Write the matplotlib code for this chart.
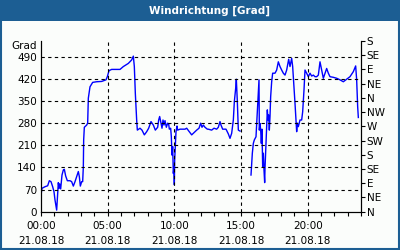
import numpy as np
import matplotlib
matplotlib.use("Agg")
import matplotlib.pyplot as plt
from matplotlib.patches import Rectangle

# hours since 00:00 on 21.08.18 and wind direction in degrees
hours = [0.0, 0.075, 0.30, 0.50, 0.625, 0.75, 0.875, 0.975, 1.05, 1.175,
         1.30, 1.35, 1.40, 1.475, 1.575, 1.675, 1.75, 1.85, 1.975, 2.175,
         2.30, 2.425, 2.55, 2.675, 2.80, 2.875, 2.95, 3.05, 3.125, 3.175,
         3.20, 3.25, 3.425, 3.50, 3.55, 3.675, 3.875, 4.175, 4.55, 4.875,
         4.975, 5.10, 5.30, 5.925, 6.175, 6.55, 6.80, 6.925, 7.00, 7.075,
         7.125, 7.175, 7.225, 7.425, 7.575, 7.75, 7.925, 8.075, 8.25, 8.425,
         8.575, 8.75, 8.825, 8.90, 9.00, 9.075, 9.15, 9.225, 9.30, 9.40,
         9.50, 9.575, 9.625, 9.725, 9.775, 9.825, 9.875, 9.925, 9.975, 10.00,
         10.025, 10.075, 10.125, 10.20, 10.25, 10.425, 10.80, 10.925, 11.125, 11.30,
         11.475, 11.675, 11.85, 11.975, 12.075, 12.175, 12.30, 12.475, 12.55, 12.80,
         12.975, 13.175, 13.30, 13.425, 13.50, 13.625, 13.875, 14.05, 14.175, 14.30,
         14.425, 14.50, 14.60, 14.65, 14.725, 14.80, 14.925, 15.3, 15.75, 15.85,
         15.925, 16.00, 16.125, 16.225, 16.30, 16.35, 16.375, 16.425, 16.475, 16.525,
         16.575, 16.625, 16.675, 16.725, 16.775, 16.80, 16.875, 16.925, 16.975, 17.025,
         17.075, 17.125, 17.175, 17.225, 17.30, 17.375, 17.55, 17.675, 17.80, 17.925,
         18.05, 18.175, 18.30, 18.425, 18.575, 18.675, 18.80, 18.875, 18.925, 19.05,
         19.125, 19.175, 19.225, 19.30, 19.425, 19.55, 19.625, 19.725, 19.80, 19.925,
         20.05, 20.175, 20.30, 20.425, 20.55, 20.675, 20.80, 20.925, 21.05, 21.175,
         21.30, 21.425, 21.55, 21.675, 21.925, 22.175, 22.425, 22.675, 22.925, 23.175,
         23.425, 23.60, 23.675, 23.75, 23.80]
grad = [53, 74, 79, 82, 98, 95, 79, 63, 37, 5,
        92, 74, 88, 72, 116, 132, 134, 113, 98, 98,
        95, 81, 95, 111, 127, 111, 81, 95, 95, 142,
        227, 267, 274, 280, 359, 395, 409, 411, 412, 417,
        427, 446, 450, 450, 459, 469, 480, 492, 459, 374,
        332, 290, 258, 264, 258, 243, 253, 264, 285, 274,
        258, 267, 290, 301, 280, 264, 290, 274, 288, 267,
        280, 277, 261, 264, 237, 179, 206, 121, 142, 85,
        164, 206, 253, 271, 258, 261, 261, 264, 253, 243,
        250, 258, 264, 280, 267, 274, 267, 261, 261, 258,
        264, 261, 267, 285, 274, 261, 261, 246, 232, 248,
        290, 348, 390, 419, 348, 258, 255, np.nan, 116, 185,
        216, 227, 237, 316, 374, 417, 258, 279, 258, 216,
        261, 142, 185, 132, 92, 137, 216, 269, 322, 290,
        306, 258, 301, 364, 411, 438, 438, 448, 474, 459,
        448, 438, 432, 448, 482, 459, 485, 459, 427, 343,
        290, 253, 280, 269, 290, 290, 316, 385, 448, 438,
        427, 438, 429, 432, 427, 427, 432, 474, 448, 422,
        438, 453, 438, 427, 425, 422, 417, 411, 419, 427,
        443, 461, 417, 332, 298]

y_ticks = [0, 70, 140, 210, 280, 350, 420, 490]
x_ticks = [0, 5, 10, 15, 20]
x_labels = ["00:00\n21.08.18", "05:00\n21.08.18", "10:00\n21.08.18",
            "15:00\n21.08.18", "20:00\n21.08.18"]
dir_ticks = [0, 45, 90, 135, 180, 225, 270, 315, 360, 405, 450, 495, 540]
dir_labels = ["N", "NE", "E", "SE", "S", "SW", "W", "NW", "N", "NE", "E", "SE", "S"]

blue_frame = "#1c5e93"
fs = 7.5

fig = plt.figure(figsize=(4, 2.5), dpi=100)
fig.patch.set_facecolor("#fbfdfb")
# title bar and frame
fig.patches.append(Rectangle((0, 0.918), 1, 0.082, transform=fig.transFigure,
                             facecolor=blue_frame, edgecolor="none", zorder=0))
fig.patches.append(Rectangle((0.002, 0.004), 0.996, 0.99, transform=fig.transFigure,
                             facecolor="none", edgecolor=blue_frame, lw=1.5, zorder=0))
fig.text(0.523, 0.958, "Windrichtung [Grad]", color="white", fontsize=fs,
         fontweight="bold", ha="center", va="center")

ax = fig.add_axes([0.1025, 0.1532, 0.8, 0.683])
ax.set_facecolor("#fbfdfb")
ax.plot(hours, grad, color="#0000ff", lw=1)
ax.set_xlim(0, 24)
ax.set_ylim(0, 540)

ax.set_yticks(y_ticks)
ax.set_yticklabels([str(v) for v in y_ticks], fontsize=fs)
ax.tick_params(axis="y", length=0, pad=3)
ax.set_xticks(x_ticks)
ax.set_xticklabels(x_labels, fontsize=fs, linespacing=1.6)
ax.set_xticks(np.arange(0, 25, 1), minor=True)
ax.tick_params(axis="x", which="both", direction="out", length=3, width=0.8, pad=4)

for v in y_ticks[1:]:
    ax.axhline(v, color="black", ls=(0, (3, 3)), lw=0.8)
for v in x_ticks[1:]:
    ax.axvline(v, color="black", ls=(0, (3, 3)), lw=0.8)

ax.spines["top"].set_visible(False)
for s in ["left", "bottom", "right"]:
    ax.spines[s].set_linewidth(0.8)

ax.text(-0.012, 1.0, "Grad", transform=ax.transAxes, fontsize=fs,
        ha="right", va="top")

ax2 = ax.twinx()
ax2.set_ylim(0, 540)
ax2.set_yticks(dir_ticks)
ax2.set_yticklabels(dir_labels, fontsize=fs)
ax2.tick_params(axis="y", direction="out", length=3, width=0.8, pad=1)
ax2.spines["top"].set_visible(False)
ax2.spines["right"].set_linewidth(0.8)

fig.savefig("out.png", dpi=100, facecolor=fig.get_facecolor())
